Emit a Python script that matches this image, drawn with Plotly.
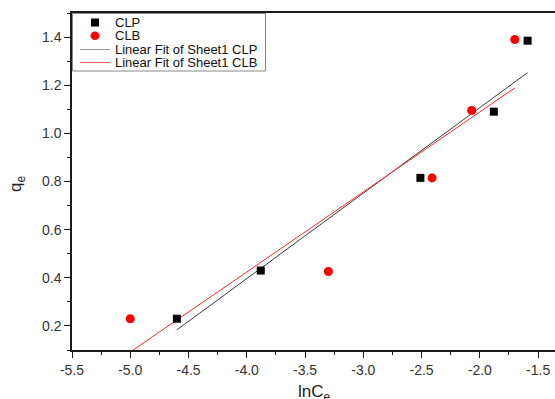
import numpy as np
import plotly.graph_objects as go

# Adsorption data: ln of equilibrium concentration vs uptake
clp_lnc = [-4.60, -3.88, -2.51, -1.88, -1.59]
clp_qe = [0.230, 0.430, 0.815, 1.090, 1.385]
clb_lnc = [-5.00, -3.30, -2.41, -2.07, -1.70]
clb_qe = [0.230, 0.426, 0.815, 1.095, 1.390]

legend_labels = ["CLP", "CLB", "Linear Fit of Sheet1 CLP", "Linear Fit of Sheet1 CLB"]
x_title = "lnC<sub>e</sub>"
y_title = "q<sub>e</sub>"

x_range = [-5.5, -1.355]
y_range = [0.1, 1.5]
x_ticks = [-5.5, -5.0, -4.5, -4.0, -3.5, -3.0, -2.5, -2.0, -1.5]
y_ticks = [0.2, 0.4, 0.6, 0.8, 1.0, 1.2, 1.4]

W, H = 555, 399
ML, MR, MT, MB = 72, 0, 13, 49
PW, PH = W - ML - MR, H - MT - MB
FONT = "Liberation Sans, Arial"


def fit_line(xs, ys):
    k, b = np.polyfit(xs, ys, 1)
    xx = np.array([min(xs), max(xs)])
    return xx, k * xx + b


fig = go.Figure()

fx, fy = fit_line(clp_lnc, clp_qe)
fig.add_trace(go.Scatter(x=fx, y=fy, mode="lines", line=dict(color="#3a3a3a", width=1),
                         name=legend_labels[2], showlegend=False))
fx, fy = fit_line(clb_lnc, clb_qe)
fig.add_trace(go.Scatter(x=fx, y=fy, mode="lines", line=dict(color="#ff2a2a", width=1),
                         name=legend_labels[3], showlegend=False))
fig.add_trace(go.Scatter(x=clp_lnc, y=clp_qe, mode="markers", name=legend_labels[0],
                         marker=dict(symbol="square", size=8, color="black"), showlegend=False))
fig.add_trace(go.Scatter(x=clb_lnc, y=clb_qe, mode="markers", name=legend_labels[1],
                         marker=dict(symbol="circle", size=9, color="#ff0000"), showlegend=False))


# Pixel -> paper coordinate helpers for the legend box and axis titles
def px(xp):
    return (xp - ML) / PW


def py(yp):
    return 1 - (yp - MT) / PH


shapes = [
    dict(type="rect", xref="paper", yref="paper", x0=px(72.5), x1=px(265.5), y0=py(13.5), y1=py(71),
         line=dict(color="#888", width=1), fillcolor="white", layer="above"),
    dict(type="rect", xref="paper", yref="paper", x0=px(91), x1=px(99), y0=py(18.5), y1=py(26.5),
         line=dict(width=0), fillcolor="black", layer="above"),
    dict(type="circle", xref="paper", yref="paper", x0=px(90.5), x1=px(99.5), y0=py(31.5), y1=py(40),
         line=dict(width=0), fillcolor="#ff0000", layer="above"),
    dict(type="line", xref="paper", yref="paper", x0=px(80), x1=px(110), y0=py(49.5), y1=py(49.5),
         line=dict(color="#999", width=1), layer="above"),
    dict(type="line", xref="paper", yref="paper", x0=px(80), x1=px(110), y0=py(62.5), y1=py(62.5),
         line=dict(color="#ff5a5a", width=1), layer="above"),
]
annotations = []
for label, yc in zip(legend_labels, [22.5, 35.5, 49.5, 62.5]):
    annotations.append(dict(text=label, xref="paper", yref="paper", x=px(113), y=py(yc),
                            xanchor="left", yanchor="middle", showarrow=False,
                            font=dict(family=FONT, size=13, color="#111")))

# Axis titles
annotations.append(dict(text=x_title, xref="paper", yref="paper", x=px(314), y=py(380),
                        xanchor="center", yanchor="top", showarrow=False,
                        font=dict(family=FONT, size=17, color="#222")))
annotations.append(dict(text=y_title, xref="paper", yref="paper", x=px(17), y=py(184),
                        xanchor="center", yanchor="middle", showarrow=False, textangle=-90,
                        font=dict(family=FONT, size=17, color="#222")))

axis_common = dict(
    showgrid=False, zeroline=False, showline=True, linecolor="#1a1a1a", linewidth=1.5,
    ticks="outside", ticklen=6, tickwidth=1.2, tickcolor="#1a1a1a", automargin=False,
    tickfont=dict(family=FONT, size=14, color="#333"),
)

fig.update_layout(
    width=W, height=H,
    margin=dict(l=ML, r=MR, t=MT, b=MB),
    paper_bgcolor="white", plot_bgcolor="white",
    shapes=shapes, annotations=annotations,
    xaxis=dict(range=x_range, tickvals=x_ticks, ticktext=[f"{v:.1f}" for v in x_ticks],
               mirror=True, **axis_common),
    yaxis=dict(range=y_range, tickvals=y_ticks, ticktext=[f"{v:.1f}" for v in y_ticks],
               **axis_common),
)
fig.update_xaxes(minor=dict(ticks="outside", ticklen=3, tickwidth=1.2, tickcolor="#1a1a1a",
                            tick0=-5.5, dtick=0.25))
fig.update_yaxes(minor=dict(ticks="outside", ticklen=3, tickwidth=1.2, tickcolor="#1a1a1a",
                            tick0=0.1, dtick=0.1))

fig.write_html("out.html")
